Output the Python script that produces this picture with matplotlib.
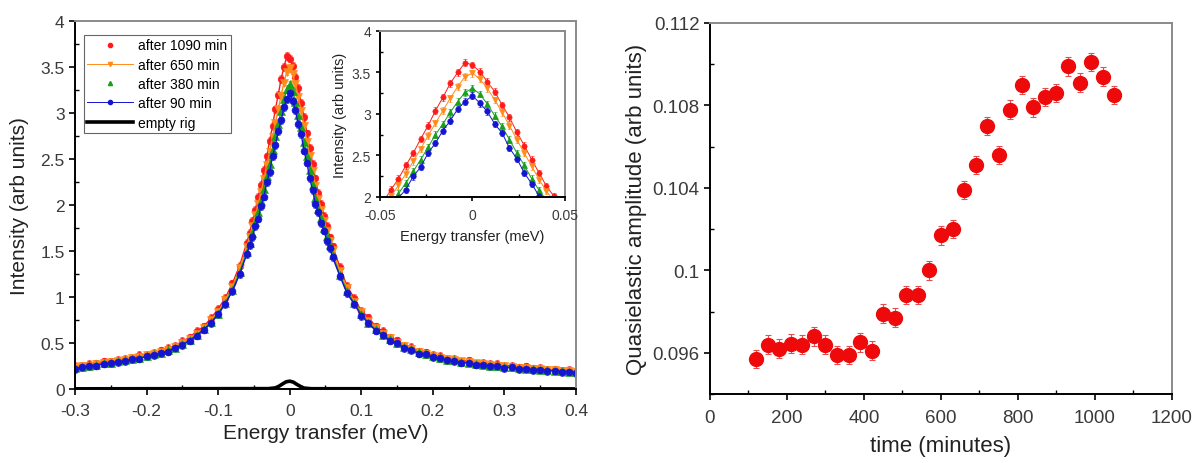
import matplotlib.pyplot as plt
from matplotlib.ticker import MultipleLocator, FormatStrFormatter
from matplotlib.lines import Line2D

plt.rcParams['font.family'] = ['Liberation Sans', 'DejaVu Sans']
plt.rcParams['axes.unicode_minus'] = False

# energy transfer (meV): coarse in the wings, fine across the peak
energy = [-0.30, -0.29, -0.28, -0.27, -0.26, -0.25, -0.24, -0.23, -0.22, -0.21,
          -0.20, -0.19, -0.18, -0.17, -0.16, -0.15, -0.14, -0.13, -0.12, -0.11,
          -0.10, -0.09, -0.08, -0.07, -0.06,
          -0.056, -0.052, -0.048, -0.044, -0.040, -0.036, -0.032, -0.028, -0.024,
          -0.020, -0.016, -0.012, -0.008, -0.004, 0.000, 0.004, 0.008, 0.012,
          0.016, 0.020, 0.024, 0.028, 0.032, 0.036, 0.040, 0.044, 0.048, 0.052, 0.056,
          0.06, 0.07, 0.08, 0.09, 0.10, 0.11, 0.12, 0.13, 0.14, 0.15, 0.16, 0.17,
          0.18, 0.19, 0.20, 0.21, 0.22, 0.23, 0.24, 0.25, 0.26, 0.27, 0.28, 0.29,
          0.30, 0.31, 0.32, 0.33, 0.34, 0.35, 0.36, 0.37, 0.38, 0.39, 0.40]

int_1090 = [0.25, 0.25, 0.27, 0.28, 0.30, 0.30, 0.32, 0.33, 0.34, 0.37,
            0.37, 0.39, 0.42, 0.45, 0.47, 0.52, 0.56, 0.63, 0.68, 0.77,
            0.87, 0.99, 1.15, 1.34, 1.59,
            1.70, 1.83, 1.95, 2.09, 2.22, 2.38, 2.53, 2.70, 2.86,
            3.04, 3.20, 3.37, 3.50, 3.62, 3.59, 3.51, 3.39, 3.27,
            3.11, 2.96, 2.78, 2.62, 2.45, 2.29, 2.13, 2.01, 1.88, 1.77, 1.65,
            1.55, 1.33, 1.12, 0.99, 0.85, 0.78, 0.68, 0.63, 0.56, 0.53, 0.47, 0.46,
            0.41, 0.40, 0.37, 0.36, 0.33, 0.33, 0.30, 0.31, 0.28, 0.285, 0.27, 0.27,
            0.25, 0.255, 0.235, 0.245, 0.225, 0.23, 0.21, 0.215, 0.20, 0.205, 0.19]

int_650 = [0.235, 0.25, 0.255, 0.27, 0.285, 0.295, 0.305, 0.32, 0.335, 0.35,
           0.365, 0.385, 0.40, 0.425, 0.46, 0.50, 0.545, 0.60, 0.66, 0.745,
           0.84, 0.97, 1.11, 1.31, 1.54,
           1.65, 1.77, 1.89, 2.01, 2.14, 2.28, 2.43, 2.58, 2.74,
           2.89, 3.04, 3.19, 3.33, 3.45, 3.49, 3.42, 3.31, 3.17,
           3.02, 2.86, 2.69, 2.53, 2.37, 2.21, 2.07, 1.95, 1.83, 1.72, 1.61,
           1.51, 1.28, 1.10, 0.95, 0.84, 0.74, 0.665, 0.60, 0.55, 0.505, 0.465, 0.435,
           0.405, 0.38, 0.36, 0.34, 0.325, 0.31, 0.30, 0.29, 0.28, 0.27, 0.26, 0.255,
           0.245, 0.24, 0.23, 0.225, 0.22, 0.215, 0.21, 0.205, 0.20, 0.195, 0.19]

int_380 = [0.23, 0.235, 0.25, 0.265, 0.28, 0.28, 0.30, 0.31, 0.325, 0.34,
           0.355, 0.375, 0.39, 0.42, 0.45, 0.49, 0.53, 0.59, 0.65, 0.73,
           0.82, 0.94, 1.08, 1.27, 1.49,
           1.59, 1.70, 1.81, 1.92, 2.04, 2.17, 2.31, 2.45, 2.60,
           2.75, 2.88, 3.02, 3.15, 3.26, 3.31, 3.24, 3.12, 2.98,
           2.85, 2.69, 2.53, 2.38, 2.22, 2.08, 1.96, 1.86, 1.75, 1.66, 1.56,
           1.46, 1.24, 1.07, 0.93, 0.82, 0.72, 0.65, 0.59, 0.54, 0.50, 0.46, 0.43,
           0.40, 0.375, 0.355, 0.335, 0.32, 0.31, 0.295, 0.285, 0.275, 0.265, 0.255, 0.25,
           0.24, 0.235, 0.225, 0.22, 0.215, 0.21, 0.205, 0.20, 0.195, 0.19, 0.185]

int_90 = [0.215, 0.235, 0.25, 0.255, 0.275, 0.28, 0.295, 0.30, 0.325, 0.33,
          0.355, 0.365, 0.39, 0.405, 0.45, 0.475, 0.525, 0.58, 0.645, 0.715,
          0.815, 0.925, 1.065, 1.245, 1.465,
          1.56, 1.65, 1.77, 1.85, 1.99, 2.09, 2.25, 2.36, 2.53,
          2.65, 2.80, 2.92, 3.06, 3.15, 3.22, 3.13, 3.03, 2.88,
          2.77, 2.59, 2.46, 2.29, 2.16, 2.01, 1.92, 1.80, 1.72, 1.61, 1.53,
          1.43, 1.23, 1.04, 0.925, 0.795, 0.715, 0.635, 0.585, 0.525, 0.495, 0.445, 0.425,
          0.385, 0.375, 0.345, 0.335, 0.31, 0.305, 0.285, 0.285, 0.265, 0.265, 0.245, 0.25,
          0.23, 0.235, 0.215, 0.22, 0.205, 0.21, 0.195, 0.20, 0.185, 0.19, 0.175]

int_err = 0.04

# empty sample holder
rig_energy = [-0.30, -0.03, -0.02, -0.015, -0.01, -0.005, 0.0, 0.005, 0.01, 0.015, 0.02, 0.03, 0.40]
rig_int = [0.002, 0.004, 0.012, 0.03, 0.055, 0.078, 0.085, 0.075, 0.05, 0.028, 0.01, 0.003, 0.001]

# quasielastic amplitude vs time
time_min = [120, 150, 180, 210, 240, 270, 300, 330, 360, 390, 420, 450, 480, 510, 540, 570,
            600, 630, 660, 690, 720, 750, 780, 810, 840, 870, 900, 930, 960, 990, 1020, 1050]
qe_amp = [0.0957, 0.0964, 0.0962, 0.09645, 0.0964, 0.0968, 0.0964, 0.0959, 0.0959, 0.0965,
          0.0961, 0.0979, 0.0977, 0.0988, 0.0988, 0.1000, 0.1017, 0.1020, 0.1039, 0.1051,
          0.1070, 0.1056, 0.1078, 0.1090, 0.1079, 0.1084, 0.1086, 0.1099, 0.1091, 0.1101,
          0.1094, 0.1085]
qe_err = 0.00045

series = [(int_1090, 'after 1090 min', '#ff1a1a', 'o', 4.8),
          (int_650, 'after 650 min', '#ff8c1a', 'v', 5.2),
          (int_380, 'after 380 min', '#18a018', '^', 5.2),
          (int_90, 'after 90 min', '#1414d2', 'o', 5.0)]


def style_axes(ax, fs):
    ax.spines['left'].set_color('black')
    ax.spines['bottom'].set_color('black')
    ax.spines['top'].set_color('#8a8a8a')
    ax.spines['right'].set_color('#8a8a8a')
    for s in ax.spines.values():
        s.set_linewidth(1.4)
    ax.tick_params(which='major', direction='out', length=4, width=1.2, labelsize=fs,
                   top=False, right=False, colors='black')
    ax.tick_params(which='minor', direction='in', length=3, width=1.0, top=False, right=False)
    for t in ax.get_xticklabels() + ax.get_yticklabels():
        t.set_color('#3a3a3a')


fig = plt.figure(figsize=(11.96, 4.64), dpi=100)

#1) spectra
ax1 = fig.add_axes([0.0627, 0.1595, 0.4189, 0.7931])
for vals, lab, col, mk, ms in series:
    ax1.errorbar(energy, vals, yerr=int_err, fmt=mk, color=col, ms=ms, mew=0.4,
                 elinewidth=0.7, capsize=1.2, lw=1.0, ls='-')
ax1.plot(rig_energy, rig_int, color='black', lw=2.6, solid_capstyle='butt')
ax1.set_xlim(-0.3, 0.4)
ax1.set_ylim(0, 4)
ax1.xaxis.set_major_locator(MultipleLocator(0.1))
ax1.xaxis.set_minor_locator(MultipleLocator(0.05))
ax1.yaxis.set_major_locator(MultipleLocator(0.5))
ax1.yaxis.set_minor_locator(MultipleLocator(0.25))
ax1.xaxis.set_major_formatter(FormatStrFormatter('%g'))
ax1.yaxis.set_major_formatter(FormatStrFormatter('%g'))
style_axes(ax1, 12.5)
ax1.tick_params(axis='x', pad=6)
ax1.set_xlabel('Energy transfer (meV)', fontsize=15, labelpad=4, color='#222222')
ax1.set_ylabel('Intensity (arb units)', fontsize=15, labelpad=8, color='#222222')

handles = [Line2D([], [], ls='none', marker='o', color='#ff1a1a', ms=3),
           Line2D([], [], ls='-', lw=0.7, marker='v', color='#ff8c1a', ms=3),
           Line2D([], [], ls='none', marker='^', color='#18a018', ms=3),
           Line2D([], [], ls='-', lw=0.7, marker='o', color='#1414d2', ms=3),
           Line2D([], [], ls='-', lw=2.6, color='black')]
labels = [s[1] for s in series] + ['empty rig']
leg = ax1.legend(handles, labels, loc='upper left', bbox_to_anchor=(0.018, 0.962),
                 fontsize=10, labelspacing=0.38, handlelength=3.3, handletextpad=0.35,
                 borderpad=0.25, borderaxespad=0.0, fancybox=False, framealpha=1)
leg.get_frame().set_edgecolor('#666666')
leg.get_frame().set_linewidth(0.8)

#2) inset around the peak
ax2 = fig.add_axes([0.3177, 0.5733, 0.1547, 0.3578])
for vals, lab, col, mk, ms in series:
    ax2.errorbar(energy, vals, yerr=int_err, fmt=mk, color=col, ms=ms - 1.0, mew=0.4,
                 elinewidth=0.7, capsize=1.5, lw=0.7, ls='-')
ax2.set_xlim(-0.05, 0.05)
ax2.set_ylim(2, 4)
ax2.xaxis.set_major_locator(MultipleLocator(0.05))
ax2.xaxis.set_minor_locator(MultipleLocator(0.025))
ax2.yaxis.set_major_locator(MultipleLocator(0.5))
ax2.yaxis.set_minor_locator(MultipleLocator(0.25))
ax2.xaxis.set_major_formatter(FormatStrFormatter('%g'))
ax2.yaxis.set_major_formatter(FormatStrFormatter('%g'))
style_axes(ax2, 10)
ax2.tick_params(which='major', length=3)
ax2.tick_params(which='minor', length=2)
ax2.tick_params(axis='x', pad=5)
ax2.set_xlabel('Energy transfer (meV)', fontsize=10.5, labelpad=5, color='#222222')
ax2.set_ylabel('Intensity (arb units)', fontsize=10.5, labelpad=3, color='#222222')

#3) amplitude vs time
ax3 = fig.add_axes([0.5936, 0.1487, 0.3863, 0.7996])
ax3.errorbar(time_min, qe_amp, yerr=qe_err, fmt='o', color='#ee0a0a', ms=10,
             elinewidth=0.8, capsize=2.5, capthick=0.8, ecolor='#e05050')
ax3.set_xlim(0, 1200)
ax3.set_ylim(0.094, 0.112)
ax3.xaxis.set_major_locator(MultipleLocator(200))
ax3.xaxis.set_minor_locator(MultipleLocator(100))
ax3.yaxis.set_major_locator(MultipleLocator(0.004))
ax3.yaxis.set_minor_locator(MultipleLocator(0.002))
ax3.yaxis.set_major_formatter(FormatStrFormatter('%g'))
style_axes(ax3, 13.5)
ax3.tick_params(axis='x', pad=7)
ax3.set_xlabel('time (minutes)', fontsize=16, labelpad=6, color='#222222')
ax3.set_ylabel('Quasielastic amplitude (arb units)', fontsize=16, labelpad=4, color='#222222')

fig.savefig('out.png', dpi=100)
